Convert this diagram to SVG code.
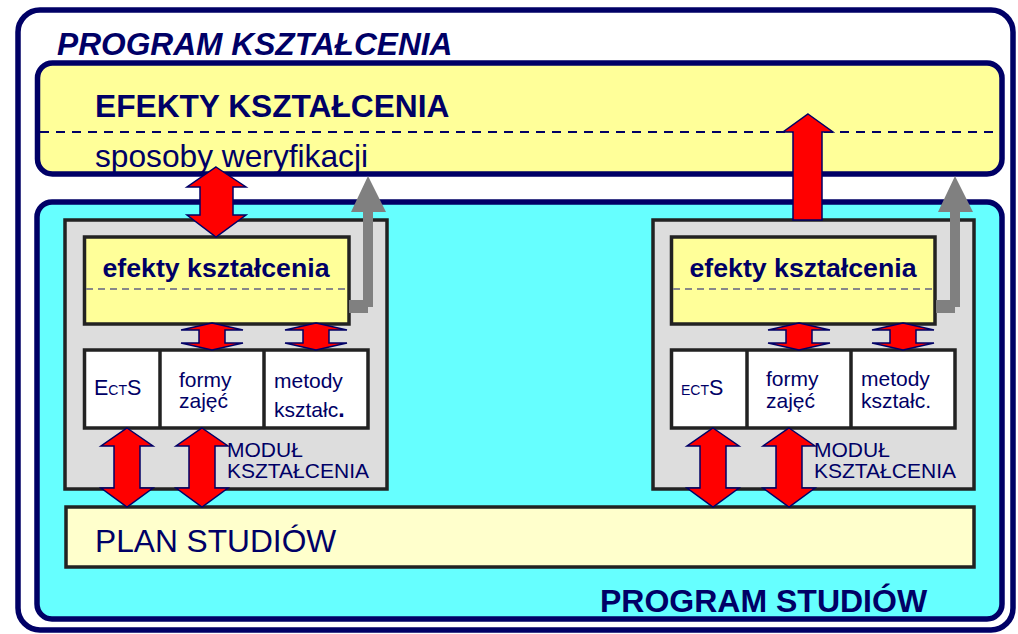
<svg xmlns="http://www.w3.org/2000/svg" width="1018" height="634" viewBox="0 0 1018 634">
<style>
text{font-family:"Liberation Sans",Arial,sans-serif;fill:#000066}
.big{font-size:31.7px}
.b{font-weight:bold}
.cell{font-size:21px}
.navybox{stroke:#000066;stroke-width:5.5}
.dark{stroke:#222;stroke-width:3.5}
.red{fill:#ff0000;stroke:#000066;stroke-width:1.5;stroke-linejoin:miter}
.gray{fill:#808080}
</style>
<defs>
<path id="bigDouble" d="M0,0 L26,18 L13,18 L13,60 L26,60 L0,79 L-26,60 L-13,60 L-13,18 L-26,18 Z"/>
<path id="smallDouble" d="M0,0 L31,7 L13,7 L13,20 L31,20 L0,27 L-31,20 L-13,20 L-13,7 L-31,7 Z"/>
<path id="grayBent" d="M0,124 L14,124 L14,36 L2,36 L19,0 L37,36 L24,36 L24,131 L19,131 L19,137 L0,137 Z"/>
</defs>
<rect x="0" y="0" width="1018" height="634" fill="#ffffff"/>
<g id="program-ksztalcenia">
<rect x="18" y="10" width="995" height="620" rx="22" fill="#ffffff" class="navybox"/>
<text x="57" y="55" class="big b" font-style="italic">PROGRAM KSZTAŁCENIA</text>
</g>
<g id="efekty-ksztalcenia">
<rect x="37.5" y="63" width="964.5" height="111" rx="15" fill="#ffff99" class="navybox"/>
<line x1="40" y1="132" x2="1000" y2="132" stroke="#000066" stroke-width="2" stroke-dasharray="9,7"/>
<text x="95" y="117" class="big b">EFEKTY KSZTAŁCENIA</text>
<text x="95" y="167" class="big">sposoby weryfikacji</text>
</g>
<g id="program-studiow">
<rect x="37" y="202" width="965" height="417" rx="15" fill="#66ffff" class="navybox"/>
<text x="600" y="612" font-size="32" class="b">PROGRAM STUDIÓW</text>
</g>
<g id="modul-1">
<rect x="65" y="220" width="322" height="269" fill="#dddddd" class="dark"/>
<rect x="84.5" y="237" width="264.5" height="87" fill="#ffff99" class="dark"/>
<line x1="86" y1="289" x2="347" y2="289" stroke="#888" stroke-width="2" stroke-dasharray="7,5"/>
<text x="216" y="277" font-size="26.7" class="b" text-anchor="middle">efekty kształcenia</text>
<rect x="84.5" y="350" width="283.5" height="78" fill="#ffffff" class="dark"/>
<line x1="160" y1="350" x2="160" y2="428" class="dark"/>
<line x1="264" y1="350" x2="264" y2="428" class="dark"/>
<text x="94" y="395" font-size="21.5">E<tspan font-size="14">CT</tspan>S</text>
<text x="179" y="387" class="cell">formy</text>
<text x="179" y="408" class="cell">zajęć</text>
<text x="274" y="388" class="cell">metody</text>
<text x="274" y="417" class="cell">kształc<tspan font-weight="bold" font-size="23">.</tspan></text>
<text x="227" y="457" class="cell">MODUŁ</text>
<text x="227" y="478" class="cell">KSZTAŁCENIA</text>
</g>
<g id="modul-2">
<rect x="653" y="220" width="321" height="269" fill="#dddddd" class="dark"/>
<rect x="671.5" y="237" width="263.5" height="87" fill="#ffff99" class="dark"/>
<line x1="673" y1="289" x2="933" y2="289" stroke="#888" stroke-width="2" stroke-dasharray="7,5"/>
<text x="803" y="277" font-size="26.7" class="b" text-anchor="middle">efekty kształcenia</text>
<rect x="671.5" y="350" width="283.5" height="78" fill="#ffffff" class="dark"/>
<line x1="747" y1="350" x2="747" y2="428" class="dark"/>
<line x1="851" y1="350" x2="851" y2="428" class="dark"/>
<text x="681" y="395" font-size="21.5"><tspan font-size="14">ECT</tspan>S</text>
<text x="766" y="386" class="cell">formy</text>
<text x="766" y="408" class="cell">zajęć</text>
<text x="861" y="386" class="cell">metody</text>
<text x="861" y="408" class="cell">kształc.</text>
<text x="814" y="457" class="cell">MODUŁ</text>
<text x="814" y="478" class="cell">KSZTAŁCENIA</text>
</g>
<g id="plan-studiow">
<rect x="66" y="507" width="908" height="60" fill="#ffffcc" class="dark"/>
<text x="95" y="552" class="big">PLAN STUDIÓW</text>
</g>
<g id="connectors">
<polygon class="red" points="216,167 246,187 233,187 233,215 246,215 216,237 187,215 200,215 200,187 187,187"/>
<polygon class="red" points="808,114 833,132 822,132 822,220 793,220 793,132 783,132"/>
<use href="#smallDouble" class="red" transform="translate(212,323)"/>
<use href="#smallDouble" class="red" transform="translate(316,323)"/>
<use href="#smallDouble" class="red" transform="translate(799,323)"/>
<use href="#smallDouble" class="red" transform="translate(903,323)"/>
<use href="#bigDouble" class="red" transform="translate(127,428)"/>
<use href="#bigDouble" class="red" transform="translate(202,428)"/>
<use href="#bigDouble" class="red" transform="translate(713,428)"/>
<use href="#bigDouble" class="red" transform="translate(789,428)"/>
<use href="#grayBent" class="gray" transform="translate(349,176)"/>
<use href="#grayBent" class="gray" transform="translate(936,176)"/>
</g>
</svg>
